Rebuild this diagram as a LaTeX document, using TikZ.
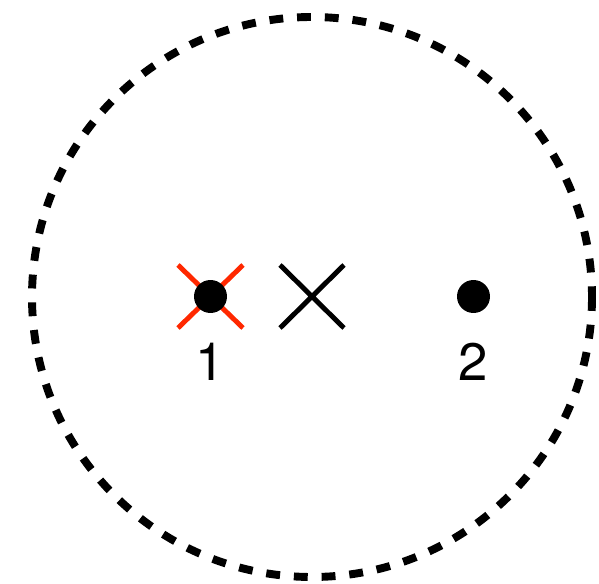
\documentclass[tikz,border=0pt]{standalone}
\usepackage{fontspec}
\setmainfont{TeX Gyre Heros}
\definecolor{crossred}{RGB}{255,40,0}
\tikzset{
  pt/.style={circle,fill=black,inner sep=0pt,minimum size=0.66cm},
  lbl/.style={inner sep=0pt,font=\fontsize{30}{36}\selectfont},
}
\begin{document}
\begin{tikzpicture}[x=0.02cm,y=-0.02cm, line join=round]
			\useasboundingbox (0,0) rectangle (599,584);
			\draw[line width=4.5pt,dash pattern=on 7.9pt off 7.9pt] (312,297) circle (280);
			% source 1 with red cross
			\draw[crossred,line width=2.8pt] (178,265)--(243,328) (178,328)--(243,265);
			\node[pt] (p1) at (210.5,296.5) {};
			\node[lbl] (l1) at (210.5,362) {1};
			% black cross
			\draw[line width=2.8pt] (280,265)--(344,328) (280,328)--(344,265);
			% source 2
			\node[pt] (p2) at (473.5,296.5) {};
			\node[lbl] (l2) at (473.5,362) {2};
		\end{tikzpicture}
\end{document}
